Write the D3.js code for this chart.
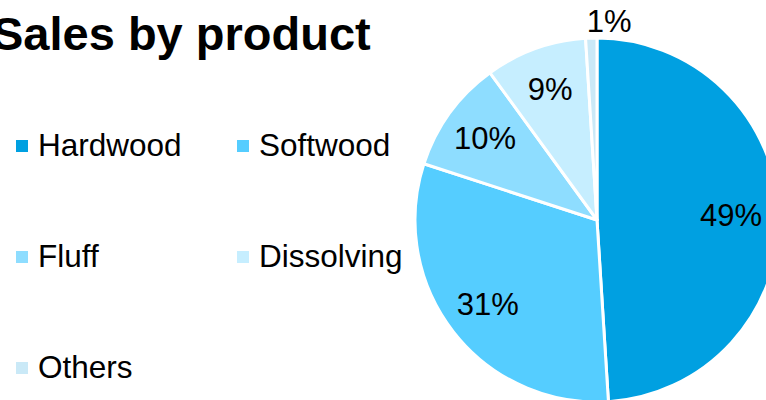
<!DOCTYPE html>
<html>
<head>
<meta charset="utf-8">
<script src="https://cdn.jsdelivr.net/npm/d3@7"></script>
<style>
  html, body { margin: 0; padding: 0; background: #fff; overflow: hidden; }
  svg { display: block; font-family: "Liberation Sans", Arial, sans-serif; }
</style>
</head>
<body>
<script>
//Data
    const products = ["Hardwood", "Softwood", "Fluff", "Dissolving", "Others"];
    const shares = [49, 31, 10, 9, 1];
    const colors = ["#00A0E1", "#55CDFF", "#8EDDFF", "#C6EEFF", "#CAE9F7"];

//Variables
    const width = 766;
    const height = 400;
    const cx = 597;
    const cy = 220;
    const radius = 182;

    const svg = d3.select("body")
        .append("svg")
        .attr("width", width)
        .attr("height", height);

//Title
    svg.append("text")
        .text("Sales by product")
        .attr("x", -8)
        .attr("y", 50)
        .style("font-size", "47px")
        .style("font-weight", "bold");

//Legend
    const legend = svg.append("g").attr("id", "legend");
    const items = legend.selectAll("g")
        .data(products)
        .enter()
        .append("g")
        .attr("transform", (d, i) => `translate(${16 + (i % 2) * 221}, ${156 + Math.floor(i / 2) * 111})`);

    items.append("rect")
        .attr("x", 0)
        .attr("y", -16)
        .attr("width", 12)
        .attr("height", 12)
        .attr("fill", (d, i) => colors[i]);

    items.append("text")
        .text(d => d)
        .attr("x", 22)
        .attr("y", 0)
        .style("font-size", "31.5px");

//Pie
    const pie = d3.pie().sort(null).value(d => d);
    const arcs = pie(shares);
    const arc = d3.arc().innerRadius(0).outerRadius(radius);
    const labelArc = d3.arc().innerRadius(radius * 0.76).outerRadius(radius * 0.76);
    const outerArc = d3.arc().innerRadius(radius + 17).outerRadius(radius + 17);

    const g = svg.append("g").attr("transform", `translate(${cx}, ${cy})`);

    g.selectAll("path")
        .data(arcs)
        .enter()
        .append("path")
        .attr("d", arc)
        .attr("fill", (d, i) => colors[i])
        .attr("stroke", "#fff")
        .attr("stroke-width", 3)
        .attr("stroke-linejoin", "round");

//Labels
    const labels = g.selectAll("text")
        .data(arcs)
        .enter()
        .append("text")
        .text(d => d.data + "%")
        .attr("text-anchor", d => d.data < 3 ? "start" : "middle")
        .attr("dominant-baseline", "central")
        .style("font-size", "31px")
        .attr("fill", "#000");

    labels.each(function (d) {
        const small = d.data < 3;
        const [x, y] = small ? outerArc.centroid(d) : labelArc.centroid(d);
        const w = this.getComputedTextLength();
        // keep labels inside the visible area
        const maxX = width - cx - w / 2 - 4;
        d3.select(this)
            .attr("x", small ? x - 4 : Math.min(x, maxX))
            .attr("y", y);
    });
</script>
</body>
</html>
